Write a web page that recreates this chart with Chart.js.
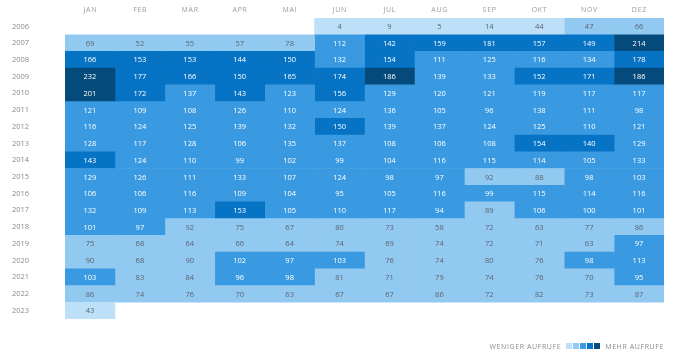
<!DOCTYPE html>
<html><head><meta charset="utf-8">
<script src="https://cdn.jsdelivr.net/npm/chart.js@4/dist/chart.umd.min.js"></script>
<style>
html,body{margin:0;padding:0;background:#fff;}
#wrap{position:relative;width:676px;height:357px;}
#legend{position:absolute;right:12px;top:342px;font:7px "Open Sans",sans-serif;letter-spacing:0.6px;color:#8a8a8a;display:flex;align-items:center;}
#legend .sq{display:inline-block;width:6px;height:6px;margin-right:1px;}
</style>
</head><body>
<div id="wrap"><canvas id="c" width="676" height="357"></canvas>
<div id="legend"><span>WENIGER AUFRUFE</span><span style="width:5px"></span><span id="sqs"></span><span style="width:4px"></span><span>MEHR AUFRUFE</span></div>
</div>
<script>
const months = ["JAN","FEB","MÄR","APR","MAI","JUN","JUL","AUG","SEP","OKT","NOV","DEZ"];
const years = ["2006","2007","2008","2009","2010","2011","2012","2013","2014","2015","2016","2017","2018","2019","2020","2021","2022","2023"];
const v2006 = [null,null,null,null,null,4,9,5,14,44,47,66];
const v2007 = [69,52,55,57,78,112,142,159,181,157,149,214];
const v2008 = [166,153,153,144,150,132,154,111,125,116,134,178];
const v2009 = [232,177,166,150,165,174,186,139,133,152,171,186];
const v2010 = [201,172,137,143,123,156,129,120,121,119,117,117];
const v2011 = [121,109,108,126,110,124,136,105,96,138,111,98];
const v2012 = [116,124,125,139,132,150,139,137,124,125,110,121];
const v2013 = [128,117,128,106,135,137,108,106,108,154,140,129];
const v2014 = [143,124,110,99,102,99,104,116,115,114,105,133];
const v2015 = [129,126,111,133,107,124,98,97,92,88,98,103];
const v2016 = [106,106,116,109,104,95,105,116,99,115,114,116];
const v2017 = [132,109,113,153,105,110,117,94,89,106,100,101];
const v2018 = [101,97,92,75,67,80,73,58,72,63,77,86];
const v2019 = [75,68,64,66,64,74,69,74,72,71,63,97];
const v2020 = [90,68,90,102,97,103,76,74,80,76,98,113];
const v2021 = [103,83,84,96,98,81,71,79,74,76,70,95];
const v2022 = [86,74,76,70,63,67,67,86,72,82,73,87];
const v2023 = [43,null,null,null,null,null,null,null,null,null,null,null];
const rows = [v2006,v2007,v2008,v2009,v2010,v2011,v2012,v2013,v2014,v2015,v2016,v2017,v2018,v2019,v2020,v2021,v2022,v2023];
const palette = ["#bde0f8","#92c9f1","#3a9ae1","#0673c5","#044a7b"];

let maxV = 0;
rows.forEach(r => r.forEach(v => { if (v != null && v > maxV) maxV = v; }));
function bin(v){ return Math.min(4, Math.floor(v / (maxV / 5))); }

const sqs = document.getElementById('sqs');
palette.forEach(c => { const s = document.createElement('span'); s.className='sq'; s.style.background=c; sqs.appendChild(s); });

const datasets = months.map((m, mi) => ({
  label: m,
  data: rows.map(r => r[mi] == null ? null : [mi, mi + 1]),
  backgroundColor: rows.map(r => r[mi] == null ? 'rgba(0,0,0,0)' : palette[bin(r[mi])]),
  borderWidth: 0,
  barPercentage: 1,
  categoryPercentage: 1,
  grouped: false
}));

const labelPlugin = {
  id: 'cellLabels',
  afterDatasetsDraw(chart) {
    const ctx = chart.ctx;
    ctx.save();
    ctx.font = '7.5px "Open Sans", sans-serif';
    ctx.textAlign = 'center';
    ctx.textBaseline = 'middle';
    chart.data.datasets.forEach((ds, mi) => {
      const meta = chart.getDatasetMeta(mi);
      meta.data.forEach((el, ri) => {
        const v = rows[ri][mi];
        if (v == null) return;
        const b = bin(v);
        ctx.fillStyle = b >= 2 ? '#ffffff' : '#5a6470';
        ctx.fillText(String(v), (el.x + el.base) / 2, el.y + 0.5);
      });
    });
    ctx.restore();
  }
};

new Chart(document.getElementById('c'), {
  type: 'bar',
  data: { labels: years, datasets },
  options: {
    indexAxis: 'y',
    responsive: false,
    animation: false,
    layout: { padding: { left: 12, right: 12, top: 0, bottom: 38 } },
    plugins: { legend: { display: false }, tooltip: { enabled: false } },
    scales: {
      x: {
        type: 'linear', position: 'top', min: 0, max: 12,
        grid: { display: false, drawTicks: false }, border: { display: false },
        afterBuildTicks(scale) { scale.ticks = months.map((m, i) => ({ value: i + 0.5 })); },
        afterFit(scale) { scale.height = 18; },
        ticks: {
          autoSkip: false, maxRotation: 0, padding: 4,
          color: '#9a9a9a', font: { size: 7, family: 'Open Sans' },
          callback: (val) => months[Math.floor(val)].split('').join('\u200A')
        }
      },
      y: {
        type: 'category',
        grid: { display: false, drawTicks: false }, border: { display: false },
        afterFit(scale) { scale.width = 53; },
        ticks: { crossAlign: 'far', color: '#8a8a8a', font: { size: 7.5, family: 'Open Sans' }, padding: 0 }
      }
    }
  },
  plugins: [labelPlugin]
});
</script>
</body></html>
